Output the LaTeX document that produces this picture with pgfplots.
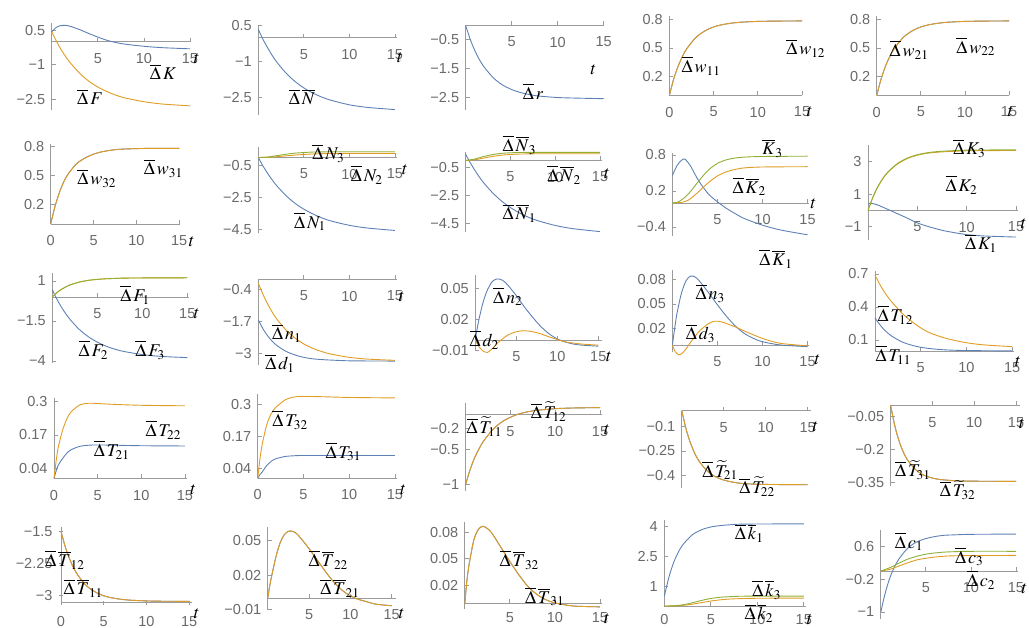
\documentclass[border=0pt]{standalone}
\usepackage{mathptmx}
\usepackage{fontspec}
\setmainfont{Liberation Sans}
\usepackage{pgfplots}
\pgfplotsset{compat=1.18}
\definecolor{mblue}{RGB}{94,129,181}
\definecolor{morange}{RGB}{225,156,36}
\definecolor{mgreen}{RGB}{143,176,50}
\definecolor{axgray}{RGB}{155,155,155}
\definecolor{tickgray}{RGB}{105,105,105}
\newcommand{\tickfont}{\fontsize{14.5}{14.5}\selectfont}
\newcommand{\labfont}{\fontsize{18}{18}\selectfont}
\newcommand{\D}{\overline{\Delta}\,}
\pgfplotsset{
  mma/.style={
    axis lines=middle,
    axis line style={draw=axgray, line width=0.8pt, -},
    enlargelimits=false, clip=false, anchor=origin,
    scaled ticks=false,
    tick align=inside, major tick length=4pt,
    tick style={draw=axgray, line width=0.8pt},
    hide obscured x ticks=false, hide obscured y ticks=false,
    xticklabel style={font=\tickfont, text=tickgray, yshift=-8pt},
    yticklabel style={font=\tickfont, text=tickgray, xshift=-3pt},
    xmin=0, xmax=15.2, xtick={5,10,15}, xticklabels={5,10,15},
  },
  zero/.style={xtick={0,5,10,15}, xticklabels={0,5,10,15}},
  cb/.style={mblue, line width=0.9pt, smooth},
  co/.style={morange, line width=0.9pt, smooth},
  cg/.style={mgreen, line width=0.9pt, smooth},
}
\begin{document}
\begin{tikzpicture}
\path[use as bounding box] (0pt,0pt) rectangle (1029pt,628pt);

% ---------- row 1
\begin{axis}[mma, at={(51.7pt,586.3pt)}, x=9.22pt, y=23pt, xmax=15, ymin=-2.97, ymax=0.83,
  ytick={-2.5,-1,0.5}, yticklabels={−2.5,−1,0.5}]
\addplot[cb] coordinates {(0,0.43)(0.5,0.62)(1,0.70)(1.5,0.71)(2,0.67)(3,0.53)(4,0.36)(5,0.2)(6,0.06)(7,-0.04)(8,-0.11)(10,-0.2)(12,-0.26)(15,-0.31)};
\addplot[co] coordinates {(0,0.43)(0.5,0.03)(1,-0.33)(1.5,-0.64)(2,-0.91)(3,-1.36)(4,-1.71)(5,-1.97)(6,-2.17)(7,-2.33)(8,-2.45)(10,-2.61)(12,-2.71)(15,-2.79)};
\end{axis}

\begin{axis}[mma, at={(258.3pt,590.3pt)}, x=9.11pt, y=23.8pt, ymin=-3.25, ymax=0.5,
  ytick={-2.5,-1,0.5}, yticklabels={−2.5,−1,0.5}]
\addplot[cb] coordinates {(0,0.35)(0.5,-0.06)(1,-0.41)(1.5,-0.73)(2,-1.01)(3,-1.47)(4,-1.83)(5,-2.11)(6,-2.33)(7,-2.50)(8,-2.63)(10,-2.82)(12,-2.93)(15,-3.02)};
\end{axis}

\begin{axis}[mma, at={(465.6pt,602.5pt)}, x=9.2pt, y=28.7pt, xmax=15, ymin=-2.94, ymax=0,
  ytick={-2.5,-1.5,-0.5}, yticklabels={−2.5,−1.5,−0.5}]
\addplot[cb] coordinates {(0,0)(0.5,-0.48)(1,-0.87)(1.5,-1.19)(2,-1.44)(3,-1.82)(4,-2.07)(5,-2.23)(6,-2.34)(7,-2.41)(8,-2.46)(10,-2.51)(12,-2.53)(15,-2.55)};
\end{axis}

\begin{axis}[mma, zero, at={(669.3pt,532.5pt)}, x=8.85pt, y=95pt, xmax=15, ymin=0, ymax=0.84,
  ytick={0.2,0.5,0.8}, yticklabels={0.2,0.5,0.8}]
\addplot[cb] coordinates {(0,0)(0.5,0.174)(1,0.309)(1.5,0.414)(2,0.496)(3,0.610)(4,0.679)(5,0.721)(6,0.746)(7,0.761)(8,0.771)(10,0.780)(12,0.783)(15,0.785)};
\addplot[co] coordinates {(0,0)(0.5,0.174)(1,0.309)(1.5,0.414)(2,0.496)(3,0.610)(4,0.679)(5,0.721)(6,0.746)(7,0.761)(8,0.771)(10,0.780)(12,0.783)(15,0.785)};
\end{axis}

\begin{axis}[mma, zero, at={(876.7pt,532.5pt)}, x=8.82pt, y=95pt, xmax=15, ymin=0, ymax=0.84,
  ytick={0.2,0.5,0.8}, yticklabels={0.2,0.5,0.8}]
\addplot[cb] coordinates {(0,0)(0.5,0.174)(1,0.309)(1.5,0.414)(2,0.496)(3,0.610)(4,0.679)(5,0.721)(6,0.746)(7,0.761)(8,0.771)(10,0.780)(12,0.783)(15,0.785)};
\addplot[co] coordinates {(0,0)(0.5,0.174)(1,0.309)(1.5,0.414)(2,0.496)(3,0.610)(4,0.679)(5,0.721)(6,0.746)(7,0.761)(8,0.771)(10,0.780)(12,0.783)(15,0.785)};
\end{axis}

% ---------- row 2
\begin{axis}[mma, zero, at={(50.7pt,404pt)}, x=8.57pt, y=97pt, xmax=15.1, ymin=0, ymax=0.82,
  ytick={0.2,0.5,0.8}, yticklabels={0.2,0.5,0.8}]
\addplot[cb] coordinates {(0,0)(0.5,0.18)(1,0.32)(1.5,0.43)(2,0.51)(3,0.62)(4,0.68)(5,0.72)(6,0.745)(7,0.76)(8,0.77)(10,0.777)(12,0.78)(15,0.78)};
\addplot[co] coordinates {(0,0)(0.5,0.18)(1,0.32)(1.5,0.43)(2,0.51)(3,0.62)(4,0.68)(5,0.72)(6,0.745)(7,0.76)(8,0.77)(10,0.777)(12,0.78)(15,0.78)};
\end{axis}

\begin{axis}[mma, at={(258.3pt,470.5pt)}, x=9.11pt, y=16pt, ymin=-4.74, ymax=0.67,
  ytick={-4.5,-2.5,-0.5}, yticklabels={−4.5,−2.5,−0.5}]
\addplot[cb] coordinates {(0,0)(0.5,-0.52)(1,-0.97)(1.5,-1.38)(2,-1.75)(3,-2.36)(4,-2.85)(5,-3.23)(6,-3.53)(7,-3.78)(8,-3.97)(10,-4.24)(12,-4.41)(15,-4.56)};
\addplot[co] coordinates {(0,0)(1,0.01)(2,0.05)(3,0.1)(4,0.15)(5,0.19)(6,0.22)(7,0.24)(8,0.25)(10,0.26)(15,0.26)};
\addplot[cg] coordinates {(0,0)(1,0.03)(2,0.11)(3,0.2)(4,0.27)(5,0.31)(6,0.34)(7,0.35)(8,0.36)(10,0.36)(15,0.36)};
\end{axis}

\begin{axis}[mma, at={(465.6pt,467.5pt)}, x=8.96pt, y=14pt, ymin=-5.09, ymax=0.63,
  ytick={-4.5,-2.5,-0.5}, yticklabels={−4.5,−2.5,−0.5}]
\addplot[cb] coordinates {(0,0.45)(0.5,-0.14)(1,-0.67)(1.5,-1.15)(2,-1.58)(3,-2.30)(4,-2.89)(5,-3.36)(6,-3.74)(7,-4.05)(8,-4.29)(10,-4.64)(12,-4.87)(15,-5.08)};
\addplot[co] coordinates {(0,0)(1,0.05)(2,0.17)(3,0.29)(4,0.38)(5,0.43)(6,0.46)(7,0.47)(8,0.48)(10,0.48)(15,0.48)};
\addplot[cg] coordinates {(0,0)(1,0.1)(2,0.28)(3,0.42)(4,0.51)(5,0.55)(6,0.57)(8,0.58)(10,0.58)(15,0.58)};
\end{axis}

\begin{axis}[mma, at={(672.4pt,425pt)}, x=9.01pt, y=60pt, ymin=-0.55, ymax=0.83,
  ytick={-0.4,0.2,0.8}, yticklabels={−0.4,0.2,0.8}]
\addplot[cb] coordinates {(0,0.46)(0.5,0.62)(1,0.71)(1.4,0.73)(2,0.62)(2.5,0.48)(3,0.35)(4,0.15)(5,0.02)(6,-0.09)(7,-0.18)(8,-0.26)(10,-0.37)(12,-0.45)(15,-0.53)};
\addplot[co] coordinates {(0,0)(1,0.01)(1.5,0.03)(2,0.07)(3,0.2)(4,0.34)(5,0.45)(6,0.52)(7,0.56)(8,0.585)(10,0.6)(15,0.605)};
\addplot[cg] coordinates {(0,0)(0.5,0.01)(1,0.05)(1.5,0.11)(2,0.19)(3,0.38)(4,0.55)(5,0.66)(6,0.72)(7,0.75)(8,0.765)(10,0.775)(15,0.78)};
\end{axis}

\begin{axis}[mma, at={(868pt,417.5pt)}, x=9.87pt, y=16.4pt, ymin=-1.8, ymax=4,
  ytick={-1,1,3}, yticklabels={−1,1,3}]
\addplot[cb] coordinates {(0,0.44)(0.5,0.42)(1,0.33)(1.5,0.2)(2,0.07)(3,-0.2)(4,-0.47)(5,-0.76)(6,-0.96)(7,-1.13)(8,-1.27)(10,-1.47)(12,-1.56)(15,-1.62)};
\addplot[co] coordinates {(0,0)(0.5,0.81)(1,1.45)(1.5,1.93)(2,2.32)(3,2.84)(4,3.17)(5,3.37)(6,3.49)(7,3.55)(8,3.59)(10,3.64)(12,3.65)(15,3.66)};
\addplot[cg] coordinates {(0,0)(0.5,0.82)(1,1.46)(1.5,1.95)(2,2.34)(3,2.87)(4,3.20)(5,3.40)(6,3.52)(7,3.59)(8,3.63)(10,3.68)(12,3.69)(15,3.70)};
\end{axis}

% ---------- row 3
\begin{axis}[mma, at={(52.3pt,331pt)}, x=9pt, y=16pt, ymin=-4.1, ymax=1.5,
  ytick={-4,-1.5,1}, yticklabels={−4,−1.5,1}]
\addplot[cb] coordinates {(0,0.45)(0.5,-0.12)(1,-0.62)(1.5,-1.05)(2,-1.42)(3,-2.03)(4,-2.48)(5,-2.82)(6,-3.08)(7,-3.27)(8,-3.41)(10,-3.60)(12,-3.71)(15,-3.79)};
\addplot[co] coordinates {(0,0)(0.5,0.27)(1,0.47)(1.5,0.63)(2,0.76)(3,0.93)(4,1.04)(5,1.10)(6,1.14)(7,1.16)(8,1.18)(10,1.19)(15,1.2)};
\addplot[cg] coordinates {(0,0)(0.5,0.27)(1,0.47)(1.5,0.63)(2,0.76)(3,0.93)(4,1.04)(5,1.10)(6,1.14)(7,1.16)(8,1.18)(10,1.19)(15,1.2)};
\end{axis}

\begin{axis}[mma, at={(258.3pt,348.5pt)}, x=9.11pt, y=24.8pt, ymin=-3.45, ymax=0,
  ytick={-3,-1.7,-0.4}, yticklabels={−3,−1.7,−0.4}]
\addplot[cb] coordinates {(0,-1.63)(0.5,-1.98)(1,-2.26)(1.5,-2.48)(2,-2.65)(3,-2.89)(4,-3.04)(5,-3.14)(6,-3.20)(7,-3.23)(8,-3.25)(10,-3.28)(12,-3.285)(15,-3.29)};
\addplot[co] coordinates {(0,-0.15)(0.5,-0.59)(1,-0.97)(1.5,-1.30)(2,-1.58)(3,-2.02)(4,-2.35)(5,-2.60)(6,-2.78)(7,-2.91)(8,-3.01)(10,-3.14)(12,-3.21)(15,-3.26)};
\end{axis}

\begin{axis}[mma, at={(475.3pt,288pt)}, x=8.2pt, y=1030pt, xmax=15.5, ymin=-0.011, ymax=0.063,
  ytick={-0.01,0.02,0.05}, yticklabels={−0.01,0.02,0.05}]
\addplot[cb] coordinates {(0,0)(0.25,0.012)(0.5,0.022)(1,0.038)(1.5,0.049)(2,0.056)(2.5,0.059)(3,0.059)(3.5,0.057)(4,0.053)(5,0.043)(6,0.032)(7,0.022)(8,0.013)(9,0.006)(10,0.001)(11,-0.002)(12,-0.004)(13,-0.005)(15,-0.006)};
\addplot[co] coordinates {(0,0)(0.5,-0.007)(1,-0.011)(1.5,-0.012)(2,-0.009)(2.5,-0.005)(3,-0.001)(4,0.005)(5,0.008)(6,0.009)(7,0.008)(8,0.006)(9,0.003)(10,0.0005)(11,-0.002)(12,-0.003)(13,-0.004)(15,-0.005)};
\end{axis}

\begin{axis}[mma, at={(672.4pt,283pt)}, x=9.01pt, y=820pt, ymin=-0.008, ymax=0.091,
  ytick={0.02,0.05,0.08}, yticklabels={0.02,0.05,0.08}]
\addplot[cb] coordinates {(0,0)(0.25,0.02)(0.5,0.038)(1,0.063)(1.5,0.078)(2,0.084)(2.5,0.083)(3,0.078)(4,0.064)(5,0.049)(6,0.035)(7,0.023)(8,0.014)(9,0.008)(10,0.004)(12,0)(15,-0.002)};
\addplot[co] coordinates {(0,0)(0.3,-0.008)(0.7,-0.012)(1,-0.011)(1.5,-0.005)(2,0.003)(3,0.017)(4,0.026)(4.7,0.029)(5.5,0.028)(7,0.022)(8,0.017)(10,0.008)(12,0.002)(15,-0.001)};
\end{axis}

\begin{axis}[mma, at={(875pt,277pt)}, x=9.14pt, y=110pt, ymin=0, ymax=0.73,
  ytick={0.1,0.4,0.7}, yticklabels={0.1,0.4,0.7}]
\addplot[cb] coordinates {(0,0.3)(0.5,0.242)(1,0.194)(1.5,0.156)(2,0.126)(3,0.081)(4,0.053)(5,0.034)(6,0.022)(7,0.014)(8,0.009)(10,0.004)(15,0.0005)};
\addplot[co] coordinates {(0,0.69)(0.5,0.61)(1,0.54)(1.5,0.48)(2,0.43)(3,0.34)(4,0.27)(5,0.21)(6,0.165)(7,0.135)(8,0.11)(10,0.075)(12,0.055)(15,0.04)};
\end{axis}

% ---------- row 4
\begin{axis}[mma, zero, at={(54pt,149.5pt)}, x=8.73pt, y=256pt, ymin=0, ymax=0.313,
  ytick={0.04,0.17,0.3}, yticklabels={0.04,0.17,0.3}]
\addplot[cb] coordinates {(0,0)(0.25,0.03)(0.5,0.053)(1,0.079)(1.5,0.1)(2,0.113)(3,0.126)(4,0.13)(5,0.131)(7,0.13)(10,0.128)(15,0.127)};
\addplot[co] coordinates {(0,0)(0.25,0.07)(0.5,0.124)(1,0.19)(1.5,0.235)(2,0.262)(3,0.288)(4,0.294)(5,0.293)(6,0.291)(8,0.288)(10,0.286)(12,0.285)(15,0.284)};
\end{axis}

\begin{axis}[mma, zero, at={(257.7pt,149.7pt)}, x=9.15pt, y=245pt, ymin=0, ymax=0.345,
  ytick={0.04,0.17,0.3}, yticklabels={0.04,0.17,0.3}]
\addplot[cb] coordinates {(0,0)(0.25,0.015)(0.5,0.026)(1,0.053)(1.5,0.07)(2,0.08)(3,0.089)(4,0.092)(5,0.093)(10,0.093)(15,0.093)};
\addplot[co] coordinates {(0,0)(0.25,0.08)(0.5,0.14)(1,0.22)(1.5,0.265)(2,0.29)(3,0.32)(4,0.332)(5,0.334)(7,0.333)(10,0.33)(15,0.328)};
\end{axis}

\begin{axis}[mma, at={(465.6pt,213.5pt)}, x=8.96pt, y=70pt, ymin=-1.1, ymax=0.167,
  ytick={-1,-0.5,-0.2}, yticklabels={−1,−0.5,−0.2}]
\addplot[cb] coordinates {(0,-1.0)(0.5,-0.79)(1,-0.62)(1.5,-0.49)(2,-0.38)(3,-0.22)(4,-0.11)(5,-0.04)(6,0.01)(7,0.04)(8,0.06)(10,0.083)(12,0.093)(15,0.098)};
\addplot[co] coordinates {(0,-1.0)(0.5,-0.79)(1,-0.62)(1.5,-0.49)(2,-0.38)(3,-0.22)(4,-0.11)(5,-0.04)(6,0.01)(7,0.04)(8,0.06)(10,0.083)(12,0.093)(15,0.098)};
\end{axis}

\begin{axis}[mma, at={(681.8pt,217.3pt)}, x=8.39pt, y=161pt, xmax=15.45, ymin=-0.48, ymax=0,
  ytick={-0.4,-0.25,-0.1}, yticklabels={−0.4,−0.25,−0.1}]
\addplot[cb] coordinates {(0,0)(0.5,-0.112)(1,-0.196)(1.5,-0.26)(2,-0.309)(3,-0.373)(4,-0.41)(5,-0.431)(6,-0.443)(7,-0.451)(8,-0.455)(10,-0.458)(15,-0.46)};
\addplot[co] coordinates {(0,0)(0.5,-0.112)(1,-0.196)(1.5,-0.26)(2,-0.309)(3,-0.373)(4,-0.41)(5,-0.431)(6,-0.443)(7,-0.451)(8,-0.455)(10,-0.458)(15,-0.46)};
\end{axis}

\begin{axis}[mma, at={(890.6pt,222.5pt)}, x=8.36pt, y=220pt, xmax=15.45, ymin=-0.364, ymax=0,
  ytick={-0.35,-0.2,-0.05}, yticklabels={−0.35,−0.2,−0.05}]
\addplot[cb] coordinates {(0,0)(0.5,-0.092)(1,-0.16)(1.5,-0.21)(2,-0.246)(3,-0.292)(4,-0.317)(5,-0.33)(6,-0.337)(7,-0.34)(8,-0.343)(10,-0.344)(15,-0.345)};
\addplot[co] coordinates {(0,0)(0.5,-0.092)(1,-0.16)(1.5,-0.21)(2,-0.246)(3,-0.292)(4,-0.317)(5,-0.33)(6,-0.337)(7,-0.34)(8,-0.343)(10,-0.344)(15,-0.345)};
\end{axis}

% ---------- row 5
\begin{axis}[mma, zero, axis x line=bottom, axis y line=left, anchor=south west,
  axis line style={draw=axgray, line width=0.8pt, -},
  at={(61pt,25.3pt)}, x=8.55pt, y=43pt, xmax=15.3, ymin=-3.16, ymax=-1.4,
  ytick={-3,-2.25,-1.5}, yticklabels={−3,−2.25,−1.5}]
\addplot[cb] coordinates {(0,-1.50)(0.5,-1.86)(1,-2.14)(1.5,-2.36)(2,-2.53)(3,-2.77)(4,-2.91)(5,-3.0)(6,-3.05)(7,-3.08)(8,-3.1)(10,-3.119)(12,-3.126)(15,-3.129)};
\addplot[co] coordinates {(0,-1.50)(0.5,-1.86)(1,-2.14)(1.5,-2.36)(2,-2.53)(3,-2.77)(4,-2.91)(5,-3.0)(6,-3.05)(7,-3.08)(8,-3.1)(10,-3.119)(12,-3.126)(15,-3.129)};
\end{axis}

\begin{axis}[mma, at={(267.7pt,29.7pt)}, x=8.27pt, y=1155pt, xmax=15.5, ymin=-0.01, ymax=0.062,
  ytick={-0.01,0.02,0.05}, yticklabels={−0.01,0.02,0.05}]
\addplot[cb] coordinates {(0,0)(0.25,0.011)(0.5,0.02)(1,0.036)(1.5,0.048)(2,0.055)(2.5,0.058)(3,0.058)(3.5,0.056)(4,0.052)(5,0.043)(6,0.033)(7,0.023)(8,0.014)(9,0.007)(10,0.002)(11,-0.001)(12,-0.003)(13,-0.005)(15,-0.0065)};
\addplot[co] coordinates {(0,0)(0.25,0.011)(0.5,0.02)(1,0.036)(1.5,0.048)(2,0.055)(2.5,0.058)(3,0.058)(3.5,0.056)(4,0.052)(5,0.043)(6,0.033)(7,0.023)(8,0.014)(9,0.007)(10,0.002)(11,-0.001)(12,-0.003)(13,-0.005)(15,-0.0065)};
\end{axis}

\begin{axis}[mma, at={(464.8pt,24.7pt)}, x=9.01pt, y=890pt, ymin=-0.006, ymax=0.091,
  ytick={0.02,0.05,0.08}, yticklabels={0.02,0.05,0.08}, xticklabel style={yshift=2pt}]
\addplot[cb] coordinates {(0,0)(0.25,0.027)(0.5,0.045)(1,0.071)(1.5,0.083)(2,0.0865)(2.5,0.084)(3,0.079)(4,0.063)(5,0.047)(6,0.032)(7,0.019)(8,0.01)(9,0.004)(10,0.0005)(12,-0.003)(15,-0.004)};
\addplot[co] coordinates {(0,0)(0.25,0.027)(0.5,0.045)(1,0.071)(1.5,0.083)(2,0.0865)(2.5,0.084)(3,0.079)(4,0.063)(5,0.047)(6,0.032)(7,0.019)(8,0.01)(9,0.004)(10,0.0005)(12,-0.003)(15,-0.004)};
\end{axis}

\begin{axis}[mma, zero, at={(664.3pt,22pt)}, x=9.3pt, y=19.8pt, ymin=0, ymax=4.34,
  ytick={1,2.5,4}, yticklabels={1,2.5,4}, xticklabel style={yshift=3pt}]
\addplot[cb] coordinates {(0,0.48)(0.5,1.46)(1,2.19)(1.5,2.71)(2,3.1)(3,3.59)(4,3.85)(5,3.99)(6,4.06)(7,4.1)(8,4.13)(10,4.14)(15,4.15)};
\addplot[co] coordinates {(0,0)(1,0.005)(2,0.03)(3,0.09)(4,0.17)(5,0.25)(6,0.31)(7,0.35)(8,0.37)(10,0.39)(15,0.4)};
\addplot[cg] coordinates {(0,0)(1,0.01)(2,0.06)(3,0.16)(4,0.28)(5,0.38)(6,0.44)(7,0.47)(8,0.49)(10,0.5)(15,0.5)};
\end{axis}

\begin{axis}[mma, at={(880.8pt,57pt)}, x=9.01pt, y=41pt, ymin=-1.18, ymax=1.0,
  ytick={-1,-0.2,0.6}, yticklabels={−1,−0.2,0.6}]
\addplot[cb] coordinates {(0,-1.0)(0.5,-0.53)(1,-0.17)(1.5,0.09)(2,0.29)(3,0.56)(4,0.71)(5,0.79)(6,0.84)(7,0.87)(8,0.88)(10,0.894)(15,0.9)};
\addplot[co] coordinates {(0,0)(1,0.04)(2,0.12)(3,0.2)(4,0.27)(5,0.31)(6,0.34)(7,0.36)(8,0.37)(10,0.375)(15,0.38)};
\addplot[cg] coordinates {(0,0)(1,0.08)(2,0.19)(3,0.29)(4,0.36)(5,0.41)(6,0.44)(7,0.46)(8,0.47)(10,0.48)(15,0.48)};
\end{axis}

% ---------- curve labels and t labels (pixel positions, y downwards)
\begin{scope}[x=1pt, y=-1pt, yshift=628pt, every node/.style={font=\labfont, inner sep=0pt}]
\node at (163,72) {$\D K$};
\node at (90,97) {$\D F$};
\node at (302,97) {$\D\overline{N}$};
\node at (533,91.7) {$\D r$};
\node at (701,66) {$\D w_{11}$};
\node at (805.7,48.3) {$\D w_{12}$};
\node at (909,50) {$\D w_{21}$};
\node at (975.7,46.7) {$\D w_{22}$};
\node at (96.7,178.3) {$\D w_{32}$};
\node at (163.3,168.3) {$\D w_{31}$};
\node at (328.3,153.3) {$\D N_3$};
\node at (366.7,175) {$\D N_2$};
\node at (310,221.7) {$\D N_1$};
\node at (519.3,145) {$\D\overline{N}_3$};
\node at (564.1,175) {$\D\overline{N}_2$};
\node at (519.3,213.3) {$\D\overline{N}_1$};
\node at (772.5,148.3) {$\overline{K}_3$};
\node at (749.2,186.7) {$\D\overline{K}_2$};
\node at (776,259) {$\D\overline{K}_1$};
\node at (969.3,148.3) {$\D K_3$};
\node at (961.5,185) {$\D K_2$};
\node at (981,243.3) {$\D K_1$};
\node at (135,295) {$\D F_1$};
\node at (93.3,350) {$\D F_2$};
\node at (150,350) {$\D F_3$};
\node at (286.7,333.3) {$\D n_1$};
\node at (280,363.3) {$\D d_1$};
\node at (507.7,296.7) {$\D n_2$};
\node at (484.3,340) {$\D d_2$};
\node at (710.2,293.3) {$\D n_3$};
\node at (700.5,333.3) {$\D d_3$};
\node at (895.3,315) {$\D T_{12}$};
\node at (893.3,355) {$\D T_{11}$};
\node at (163.3,430) {$\D T_{22}$};
\node at (111.7,450) {$\D T_{21}$};
\node at (290,420) {$\D T_{32}$};
\node at (343.3,451.7) {$\D T_{31}$};
\node at (484.3,426.7) {$\D\widetilde{T}_{11}$};
\node at (548.6,411.7) {$\D\widetilde{T}_{12}$};
\node at (720,470) {$\D\widetilde{T}_{21}$};
\node at (757,486.7) {$\D\widetilde{T}_{22}$};
\node at (912.8,470) {$\D\widetilde{T}_{31}$};
\node at (957.6,490) {$\D\widetilde{T}_{32}$};
\node at (65,560) {$\D\overline{T}_{12}$};
\node at (83.3,588.3) {$\D\overline{T}_{11}$};
\node at (328.3,560) {$\D\overline{T}_{22}$};
\node at (340,588.3) {$\D\overline{T}_{21}$};
\node at (519.3,560) {$\D\overline{T}_{32}$};
\node at (544.7,596.7) {$\D\overline{T}_{31}$};
\node at (749.2,533.3) {$\D\overline{k}_1$};
\node at (766.7,590) {$\D\overline{k}_3$};
\node at (758.9,613.3) {$\D\overline{k}_2$};
\node at (908.9,541.7) {$\D c_1$};
\node at (969.3,556.7) {$\D c_3$};
\node at (981,580) {$\D c_2$};
% t labels
\foreach \tx/\ty in {196.7/58.3, 400/58, 593.4/70, 809.6/111.7, 1010.7/111.7,
  191.7/241.7, 405/170, 607/173.3, 813.5/203.3, 1023.8/223.3,
  196.7/313.3, 401.7/296.7, 608.9/356.7, 817.4/360, 1018/361.7,
  193.3/490, 403.3/490, 607/430, 815.4/426.7, 1021.9/423.3,
  196.7/613.3, 401.7/613.3, 607/618.3, 809.6/620, 1024.5/588.3}
  \node at (\tx,\ty) {$t$};
\end{scope}
\end{tikzpicture}
\end{document}
